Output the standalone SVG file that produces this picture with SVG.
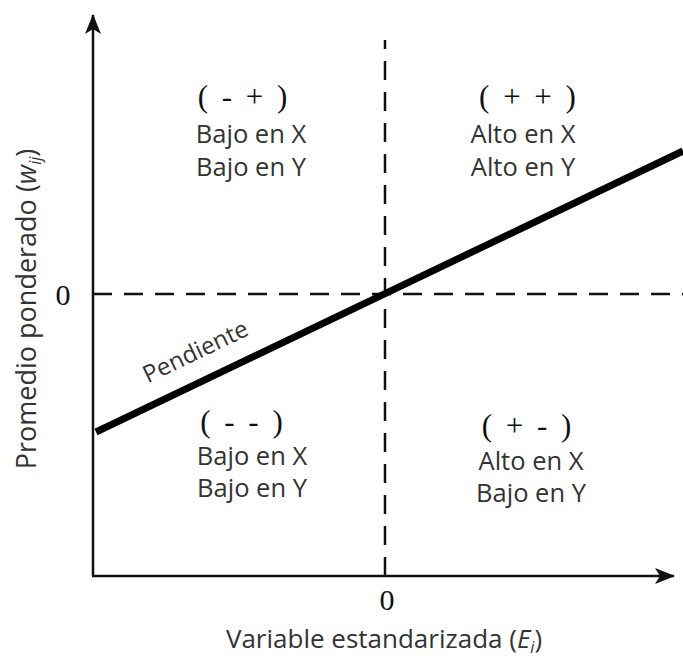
<svg xmlns="http://www.w3.org/2000/svg" width="683" height="666" viewBox="0 0 683 666">
<style>
.axis{stroke:#111;stroke-width:2.5;fill:none}
.dash{stroke:#111;stroke-width:2.5;stroke-dasharray:19 12;fill:none}
.sans{font-family:"Open Sans","Noto Sans","Liberation Sans",sans-serif;fill:#333;font-weight:400}
.serif{font-family:"Liberation Serif","DejaVu Serif",serif;fill:#111}
.q{font-size:25.5px;text-anchor:middle}
.sign{font-size:31px;text-anchor:middle;letter-spacing:3px}
</style>
<defs>
<marker id="arr" viewBox="0 0 20 16" refX="19" refY="8" markerWidth="20" markerHeight="16" markerUnits="userSpaceOnUse" orient="auto">
<path d="M0,0 L20,8 L0,16 L5,8 Z" fill="#111"/>
</marker>
</defs>
<rect width="683" height="666" fill="#fff"/>
<g id="connectors">
<path class="axis" d="M93,576 L93,15" marker-end="url(#arr)"/>
<path class="axis" d="M92,576 L674,576" marker-end="url(#arr)"/>
<path class="dash" d="M385,576 L385,40"/>
<path class="dash" d="M93,294 L683,294"/>
<path d="M96,432 L683,151" stroke="#000" stroke-width="7" fill="none"/>
</g>
<g id="q-minus-plus">
<text class="serif sign" x="244" y="107">( - + )</text>
<text class="sans q" x="251" y="143">Bajo en X</text>
<text class="sans q" x="251" y="176">Bajo en Y</text>
</g>
<g id="q-plus-plus">
<text class="serif sign" x="529" y="107">( + + )</text>
<text class="sans q" x="523" y="143">Alto en X</text>
<text class="sans q" x="523" y="176">Alto en Y</text>
</g>
<g id="q-minus-minus">
<text class="serif sign" x="243" y="432">( - - )</text>
<text class="sans q" x="252" y="465">Bajo en X</text>
<text class="sans q" x="252" y="497">Bajo en Y</text>
</g>
<g id="q-plus-minus">
<text class="serif sign" x="528" y="436">( + - )</text>
<text class="sans q" x="531" y="470">Alto en X</text>
<text class="sans q" x="531" y="502">Bajo en Y</text>
</g>
<g id="labels">
<text class="serif" x="63" y="305" font-size="30" text-anchor="middle">0</text>
<text class="serif" x="387" y="610" font-size="30" text-anchor="middle">0</text>
<text class="sans" x="384" y="648" font-size="26" text-anchor="middle">Variable estandarizada (<tspan font-style="italic">E</tspan><tspan font-style="italic" font-size="16" dy="5">i</tspan><tspan dy="-5">)</tspan></text>
<text class="sans" transform="translate(36,309) rotate(-90)" font-size="27" text-anchor="middle">Promedio ponderado (<tspan font-style="italic">w</tspan><tspan font-style="italic" font-size="16" dy="5">ij</tspan><tspan dy="-5">)</tspan></text>
<text class="sans" transform="translate(199,359) rotate(-25.5)" font-size="24" text-anchor="middle">Pendiente</text>
</g>
</svg>
